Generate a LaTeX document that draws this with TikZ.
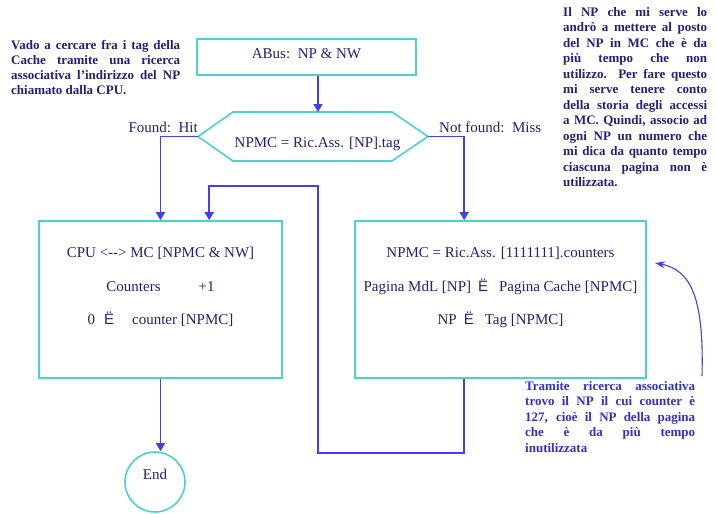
\documentclass[tikz,border=0pt]{standalone}
\usepackage{fontspec}
\setmainfont{Liberation Serif}
\newfontfamily\symfont{Liberation Sans}
\usetikzlibrary{arrows.meta}
\hyphenpenalty=10000
\exhyphenpenalty=10000

\definecolor{boxcyan}{RGB}{72,210,210}
\definecolor{flowblue}{RGB}{64,64,240}
\definecolor{inkblue}{RGB}{32,32,128}
\definecolor{noteblue}{RGB}{48,48,210}

\tikzset{
  box/.style={draw=boxcyan,line width=1.6pt,inner sep=0pt,text=inkblue,
    font=\fontsize{15}{18}\selectfont},
  flow/.style={draw=flowblue,line width=1.5pt,-{Triangle[length=8pt,width=9pt]}},
  lbl/.style={text=inkblue,inner sep=0pt,font=\fontsize{15}{18}\selectfont},
  note/.style={text=inkblue,inner sep=0pt,anchor=north west,align=justify,
    font=\fontsize{13}{15.5}\selectfont\bfseries},
}

\begin{document}
\begin{tikzpicture}[x=1pt,y=-1pt]
\useasboundingbox (0,0) rectangle (716,514);

% boxes
\node[box,minimum width=219pt,minimum height=36pt,text depth=7.6pt] (abus) at (306.5,57) {ABus:\ \ NP \& NW};
\node[box,minimum width=243pt,minimum height=157pt] (hit) at (160.5,299.5) {};
\node[box,minimum width=291pt,minimum height=157pt] (miss) at (500.5,299.5) {};
\node[box,circle,minimum size=60pt,text depth=16pt] (stop) at (155,482) {End};

% hexagon
\coordinate (hexL) at (198,136.5);
\coordinate (hexR) at (428,136.5);
\coordinate (hexT) at (318,112);
\draw[draw=boxcyan,line width=1.6pt] (hexL) -- (233,112) -- (392,112) -- (hexR)
  -- (392,161) -- (233,161) -- cycle;
\node[lbl,anchor=base] (tagtext) at (317.5,147) {NPMC = Ric.Ass. [NP].tag};
\node[lbl,anchor=base east] (found) at (198,132) {Found:\ \ Hit};
\node[lbl,anchor=base west] (notfound) at (439,132) {Not found:\ \ Miss};

% text in the boxes
\node[lbl,anchor=base] (hit1) at (160.5,257) {CPU <\mbox{-}\mbox{-}> MC [NPMC \& NW]};
\node[lbl,anchor=base] (hit2) at (160.5,291) {Counters\hspace{38pt}+1};
\node[lbl,anchor=base] (hit3) at (160.5,324) {0\hspace{9pt}{\symfont Ë}\hspace{18pt}counter [NPMC]};
\node[lbl,anchor=base] (miss1) at (500.5,257) {NPMC = Ric.Ass. [1111111].counters};
\node[lbl,anchor=base] (miss2) at (500.5,291) {Pagina MdL [NP]\hspace{7pt}{\symfont Ë}\hspace{11pt}Pagina Cache [NPMC]};
\node[lbl,anchor=base] (miss3) at (500.5,324) {NP\hspace{7pt}{\symfont Ë}\hspace{11pt}Tag [NPMC]};

% notes
\node[note,text width=169pt,font=\fontsize{13}{15}\selectfont\bfseries] (seek) at (11,40)
  {Vado a cercare fra i tag della\linebreak Cache tramite una ricerca\linebreak
   associativa l’indirizzo del NP\linebreak chiamato dalla CPU.};
\node[note,text width=144pt] (memo) at (563,7)
  {Il NP che mi serve lo\linebreak andrò a mettere al posto\linebreak
   del NP in MC che è da\linebreak più tempo che non\linebreak
   utilizzo. Per fare questo\linebreak mi serve tenere conto\linebreak
   della storia degli accessi\linebreak a MC. Quindi, associo ad\linebreak
   ogni NP un numero che\linebreak mi dica da quanto tempo\linebreak
   ciascuna pagina non è\linebreak utilizzata.};
\node[note,text width=170pt,text=noteblue] (trovo) at (525,381)
  {Tramite ricerca associativa\linebreak trovo il NP il cui counter è\linebreak
   127, cioè il NP della pagina\linebreak che è da più tempo\linebreak inutilizzata};

% connectors
\draw[flow] (abus.south -| hexT) -- (hexT);
\draw[flow] (hexL) -| (hit.north);
\draw[flow] (hexR) -| ([xshift=110pt]miss.north west);
\draw[flow] (hit.south) -- (hit.south |- stop.north);
\draw[flow] ([xshift=110pt]miss.south west) -- ++(0,74) -- ++(-146,0) -- ++(0,-267)
  -| ([xshift=171pt]hit.north west);

\coordinate (tail) at (702,376);
\coordinate (tip) at (655,263);
\draw[draw=flowblue,line width=1.1pt,-{Stealth[length=10pt,width=7pt]}] (tail)
  .. controls (704,300) and (692,270) .. (tip);
\end{tikzpicture}
\end{document}
